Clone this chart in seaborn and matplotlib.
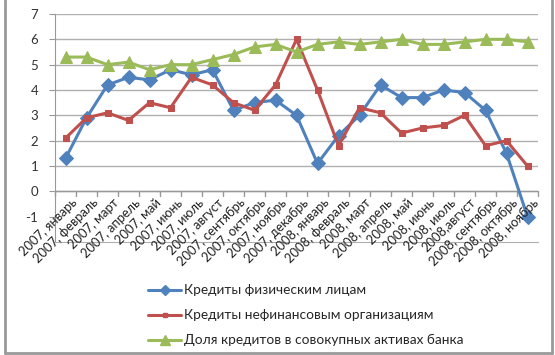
import numpy as np
import pandas as pd
import matplotlib.pyplot as plt
import seaborn as sns
from matplotlib.lines import Line2D

# month labels (x axis)
months = ['2007, январь', '2007, февраль', '2007, март', '2007, апрель', '2007, май',
          '2007, июнь', '2007, июль', '2007, август', '2007, сентябрь', '2007, октябрь',
          '2007, ноябрь', '2007, декабрь', '2008, январь', '2008, февраль', '2008, март',
          '2008, апрель', '2008, май', '2008, июнь', '2008, июль', '2008,август',
          '2008, сентябрь', '2008, октябрь', '2008, ноябрь']

# series
retail = [1.3, 2.9, 4.2, 4.5, 4.4, 4.8, 4.6, 4.8, 3.2, 3.5, 3.6, 3.0,
          1.1, 2.2, 3.0, 4.2, 3.7, 3.7, 4.0, 3.9, 3.2, 1.5, -1.0]
corporate = [2.1, 2.9, 3.1, 2.8, 3.5, 3.3, 4.5, 4.2, 3.5, 3.2, 4.2, 6.0,
             4.0, 1.8, 3.3, 3.1, 2.3, 2.5, 2.6, 3.0, 1.8, 2.0, 1.0]
share = [5.3, 5.3, 5.0, 5.1, 4.8, 5.0, 5.0, 5.2, 5.4, 5.7, 5.8, 5.5,
         5.8, 5.9, 5.8, 5.9, 6.0, 5.8, 5.8, 5.9, 6.0, 6.0, 5.9]

names = ['Кредиты физическим лицам',
         'Кредиты нефинансовым организациям',
         'Доля кредитов в совокупных активах банка']
colors = ['#4F81BD', '#C0504D', '#9BBB59']
markers = ['D', 's', '^']
msizes = [7, 4.5, 9]

idx = np.arange(len(months))
df = pd.concat([pd.DataFrame({'x': idx, 'y': vals, 'series': nm})
                for vals, nm in zip([retail, corporate, share], names)])

sns.set_style('white')
plt.rcParams['font.family'] = ['Lato', 'DejaVu Sans']

fig = plt.figure(figsize=(5.55, 3.55), dpi=100)
ax = fig.add_axes([55/555, 1 - 242/355, 483/555, 228/355])

# draw each series so marker sizes can differ
for nm, c, m, ms in zip(names, colors, markers, msizes):
    sns.lineplot(data=df[df['series'] == nm], x='x', y='y', color=c, marker=m,
                 markersize=ms, markeredgecolor=c, linewidth=2.2, ax=ax,
                 legend=False, zorder=3)

ax.set_xlim(-0.5, len(months) - 0.5)
ax.set_ylim(-2, 7)
ax.set_yticks(range(-1, 8))
ax.set_yticklabels([str(v) for v in range(-1, 8)], fontsize=9.5, color='#333333')
ax.yaxis.grid(True, color='#B0B0B0', linewidth=1)
ax.get_ygridlines()[0].set_visible(False)
ax.set_xlabel('')
ax.set_ylabel('')
ax.set_xticks([])
ax.tick_params(axis='y', length=4, color='#999999', pad=8, left=True)

for s in ['top', 'right']:
    ax.spines[s].set_visible(False)
ax.spines['left'].set_color('#999999')
ax.spines['bottom'].set_color('#B0B0B0')

# category axis crosses at zero
ax.axhline(0, color='#999999', linewidth=1, zorder=2)
for b in np.arange(-0.5, len(months), 1.0):
    ax.plot([b, b], [0, -0.17], color='#999999', linewidth=1, zorder=2, clip_on=False)
for i, lab in enumerate(months):
    ax.text(i + 0.25, -0.2, lab, rotation=45, ha='right', va='top',
            rotation_mode='anchor', fontsize=9.3, color='#222222')

# legend under the chart
handles = [Line2D([], [], color=c, marker=m, markersize=ms * 0.75, linewidth=2.2)
           for c, m, ms in zip(colors, markers, msizes)]
fig.legend(handles, names, loc='upper left', bbox_to_anchor=(143/555, 1 - 279/355),
           frameon=False, fontsize=9.8, handlelength=2.4, handletextpad=0.2,
           labelspacing=0.95, borderaxespad=0)

# outer chart frame (top edge cut off)
fig.add_artist(Line2D([5/555, 5/555], [2/355, 1], color='#999999', linewidth=2))
fig.add_artist(Line2D([552/555, 552/555], [2/355, 1], color='#999999', linewidth=2))
fig.add_artist(Line2D([5/555, 552/555], [2/355, 2/355], color='#999999', linewidth=2))

fig.savefig('out.png', dpi=100)
